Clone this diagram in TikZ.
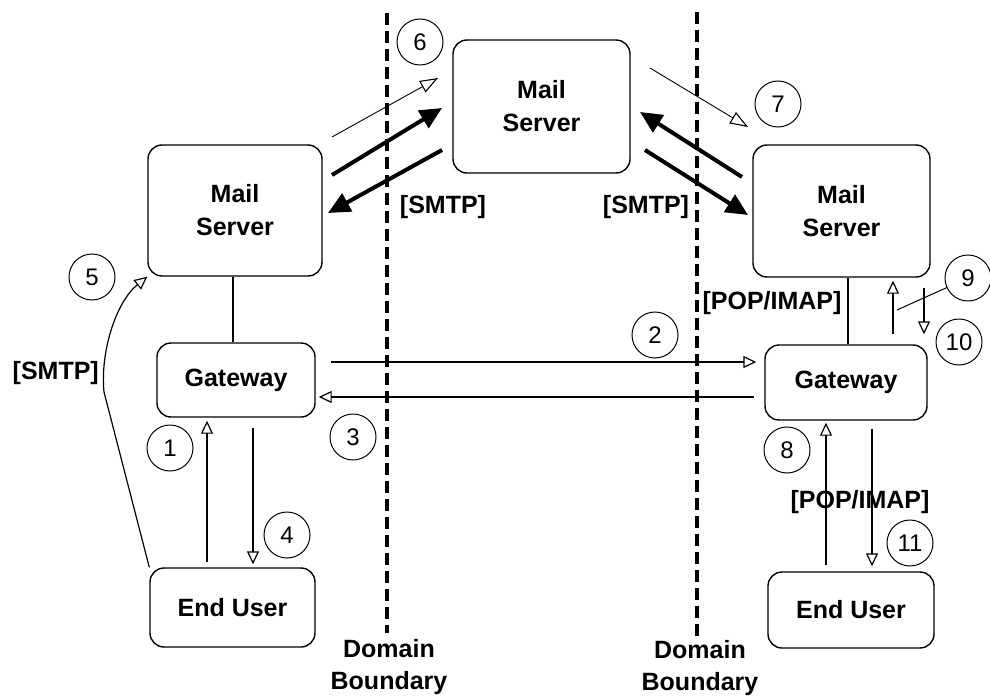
\documentclass[tikz,border=0pt]{standalone}
\usepackage{fontspec}
\setmainfont{Liberation Sans}
\usetikzlibrary{arrows.meta}
\begin{document}
\begin{tikzpicture}[x=1pt, y=-1pt,
  box/.style={draw, line width=1.4pt, rounded corners=14pt, align=center, inner sep=0pt,
    font=\bfseries\fontsize{25}{33}\selectfont},
  num/.style={draw, circle, line width=1pt, minimum size=46pt, inner sep=0pt,
    font=\fontsize{24}{24}\selectfont},
  lbl/.style={inner sep=0pt, align=center, font=\bfseries\fontsize{25}{32}\selectfont},
  wire/.style={line width=1.3pt},
  openarr/.style={line width=1.2pt, -{Triangle[open, length=13pt, width=12pt, line width=1.2pt]}},
  hairarr/.style={line width=0.9pt, -{Triangle[open, length=18pt, width=13pt, line width=1.1pt]}},
  fatarr/.style={line width=4pt, -{Triangle[length=22pt, width=20pt]}},
  boundary/.style={line width=3.5pt, dash pattern=on 12pt off 6pt}]

\fill[white] (0,0) rectangle (990,698);
\useasboundingbox (0,0) rectangle (990,698);

% domain boundaries
\coordinate (bl1) at (387,13);  \coordinate (bl2) at (387,633);
\coordinate (br1) at (697,12);  \coordinate (br2) at (697,638);
\draw[boundary] (bl1) -- (bl2);
\draw[boundary] (br1) -- (br2);
\node[lbl] (dbl) at (389,667) {Domain\\Boundary};
\node[lbl] (dbr) at (700,668) {Domain\\Boundary};

% servers, gateways and users
\node[box, minimum width=174pt, minimum height=131pt] (msl) at (235,210.5) {Mail\\Server};
\node[box, minimum width=177pt, minimum height=133pt] (msc) at (541.5,106.5) {Mail\\Server};
\node[box, minimum width=177pt, minimum height=132pt] (msr) at (841.5,211) {Mail\\Server};
\node[box, minimum width=158pt, minimum height=74pt] (gwl) at (236,380) {Gateway};
\node[box, minimum width=162pt, minimum height=75pt] (gwr) at (846,382.5) {Gateway};
\node[box, minimum width=165pt, minimum height=79pt] (eul) at (232.5,607.5) {End User};
\node[box, minimum width=166pt, minimum height=76pt] (eur) at (851,610) {End User};

% server to gateway links
\coordinate (vl) at (233,0);
\coordinate (vr) at (848,0);
\draw[wire] (msl.south -| vl) -- (gwl.north -| vl);
\draw[wire] (msr.south -| vr) -- (gwr.north -| vr);

% user <-> gateway, left side
\coordinate (u1) at (207,0);
\coordinate (d4) at (253,0);
\draw[openarr, shorten <=5pt, shorten >=3pt] (eul.north -| u1) -- (gwl.south -| u1);
\draw[openarr, shorten <=10pt, shorten >=3pt] (gwl.south -| d4) -- (eul.north -| d4);

% user <-> gateway, right side
\coordinate (u8) at (826,0);
\coordinate (d11) at (872,0);
\draw[openarr, shorten <=6pt, shorten >=2pt] (eur.north -| u8) -- (gwr.south -| u8);
\draw[openarr, shorten <=8pt, shorten >=5pt] (gwr.south -| d11) -- (eur.north -| d11);

% gateway <-> mail server, right side
\coordinate (u9) at (893,0);
\coordinate (d10) at (924,0);
\draw[openarr, shorten <=10pt, shorten >=3pt] (gwr.north -| u9) -- (msr.south -| u9);
\draw[openarr, shorten <=10pt, shorten >=10pt] (msr.south -| d10) -- (gwr.north -| d10);

% gateway to gateway
\coordinate (h2) at (0,362);
\coordinate (h3) at (0,397);
\draw[openarr, shorten <=15pt, shorten >=8pt] (gwl.east |- h2) -- (gwr.west |- h2);
\draw[openarr, shorten <=10pt, shorten >=3pt] (gwr.west |- h3) -- (gwl.east |- h3);

% end user straight to its mail server
\coordinate (k5) at (104,392);
\coordinate (k5a) at (100,352);
\coordinate (k5b) at (116,302);
\draw[openarr] (eul.north west) -- (k5) .. controls (k5a) and (k5b) .. (msl.south west);
\node[lbl, anchor=east] (smtp5) at (99,373) {[SMTP]};

% server to server relay
\coordinate (t6s) at (332,137);  \coordinate (t6e) at (438,78);
\coordinate (t7s) at (650,68);   \coordinate (t7e) at (748,127);
\draw[hairarr] (t6s) -- (t6e);
\draw[hairarr] (t7s) -- (t7e);
\coordinate (fa1) at (332,175);  \coordinate (fa2) at (442,108);
\coordinate (fb1) at (442,150);  \coordinate (fb2) at (328,213);
\coordinate (fc1) at (742,177);  \coordinate (fc2) at (640,112);
\coordinate (fd1) at (645,150);  \coordinate (fd2) at (748,215);
\draw[fatarr] (fa1) -- (fa2);
\draw[fatarr] (fb1) -- (fb2);
\draw[fatarr] (fc1) -- (fc2);
\draw[fatarr] (fd1) -- (fd2);
\node[lbl] (smtpl) at (443,207) {[SMTP]};
\node[lbl] (smtpr) at (646,207) {[SMTP]};

% protocol labels
\node[lbl] (popt) at (772,303) {[POP/IMAP]};
\node[lbl] (popb) at (860,502) {[POP/IMAP]};

% step numbers
\node[num] (c1) at (170,448) {1};
\node[num] (c2) at (655,335) {2};
\node[num] (c3) at (353,437) {3};
\node[num] (c4) at (287,535) {4};
\node[num] (c5) at (92,277) {5};
\node[num] (c6) at (420,42) {6};
\node[num] (c7) at (778,104) {7};
\node[num] (c8) at (787,450) {8};
\node[num] (c9) at (968,278) {9};
\node[num] (c10) at (959,342) {10};
\node[num] (c11) at (910,543) {11};

% leader from step 9 to its arrow
\coordinate (l9) at (897,310);
\draw[line width=1pt] (c9) -- (l9);
\end{tikzpicture}
\end{document}
